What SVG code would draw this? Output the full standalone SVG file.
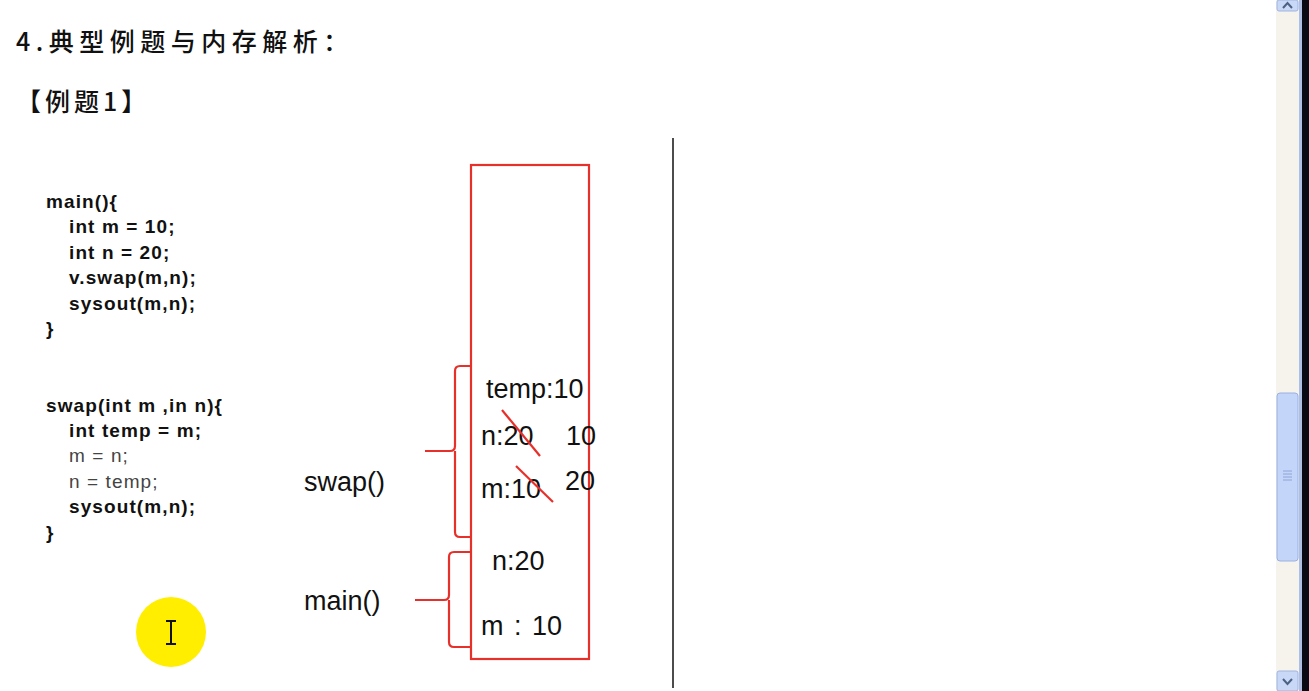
<svg xmlns="http://www.w3.org/2000/svg" width="1309" height="691" viewBox="0 0 1309 691">
<style>
.h{font-family:"Noto Sans CJK SC","Liberation Sans",sans-serif;font-size:25px;font-weight:500;fill:#111}
.c{font-family:"Liberation Sans",Arial,sans-serif;font-size:19px;letter-spacing:1.1px;fill:#111}
.b{font-weight:bold}
.g{fill:#444;font-weight:normal}
.m{font-family:"Liberation Sans",Arial,sans-serif;font-size:27px;fill:#111}
.red{fill:none;stroke:#e8302a;stroke-width:2.2}
</style>
<rect width="1309" height="691" fill="#fff"/>
<g id="title">
<text class="h" x="16" y="51" letter-spacing="5.5">4.典型例题与内存解析：</text>
<text class="h" x="16" y="111" letter-spacing="4">【例题1】</text>
</g>
<g id="code-main">
<text class="c b" x="46" y="208">main(){</text>
<text class="c b" x="69" y="233">int m = 10;</text>
<text class="c b" x="69" y="259">int n = 20;</text>
<text class="c b" x="69" y="284">v.swap(m,n);</text>
<text class="c b" x="69" y="310">sysout(m,n);</text>
<text class="c b" x="46" y="335">}</text>
</g>
<g id="code-swap">
<text class="c b" x="46" y="412">swap(int m ,in n){</text>
<text class="c b" x="69" y="437">int temp = m;</text>
<text class="c g" x="69" y="462">m = n;</text>
<text class="c g" x="69" y="488">n = temp;</text>
<text class="c b" x="69" y="513">sysout(m,n);</text>
<text class="c b" x="46" y="539">}</text>
</g>
<line id="divider" x1="673" y1="138" x2="673" y2="688" stroke="#111" stroke-width="1.5"/>
<g id="stack">
<rect x="471" y="165" width="118" height="494" class="red" fill="#fff"/>
<text class="m" x="486" y="398">temp:10</text>
<text class="m" x="481" y="445">n:20</text>
<text class="m" x="566" y="445">10</text>
<text class="m" x="481" y="498">m:10</text>
<text class="m" x="565" y="490">20</text>
<text class="m" x="492" y="570">n:20</text>
<text class="m" x="481" y="635" word-spacing="3">m : 10</text>
</g>
<g id="strikes">
<line x1="502" y1="410" x2="540" y2="456" class="red"/>
<line x1="516" y1="466" x2="553" y2="502" class="red"/>
</g>
<g id="label-swap"><text class="m" x="304" y="491">swap()</text></g>
<g id="label-main"><text class="m" x="304" y="610">main()</text></g>
<g id="connectors">
<path class="red" d="M471,366 H460 Q455,366 455,371 V446 Q455,451 450,451 H425 M455,451 V532 Q455,537 460,537 H471"/>
<path class="red" d="M471,552 H454 Q449,552 449,557 V595 Q449,600 444,600 H415 M449,600 V642 Q449,647 454,647 H471"/>
</g>
<g id="cursor">
<circle cx="171" cy="632" r="35" fill="#ffee00"/>
<path d="M166,621 H176 M171,621 V644 M166,644 H176" stroke="#111" stroke-width="2" fill="none"/>
</g>
<g id="scrollbar">
<rect x="1276" y="0" width="24" height="691" fill="#f6f3ec"/>
<rect x="1299" y="0" width="3" height="691" fill="#aebfe6"/>
<rect x="1302" y="0" width="7" height="691" fill="#0a0a14"/>
<rect x="1277" y="0" width="21" height="11" rx="2" fill="#c9d8f7" stroke="#9fb4df"/>
<path d="M1283,8 L1287.5,3 L1292,8" stroke="#4d6185" stroke-width="2" fill="none"/>
<rect x="1277" y="393" width="21" height="168" rx="3" fill="#c4d5fa" stroke="#99b0e0"/>
<path d="M1283,471 H1292 M1283,474 H1292 M1283,477 H1292 M1283,480 H1292" stroke="#8ea4d4" stroke-width="1"/>
<rect x="1277" y="671" width="21" height="20" rx="2" fill="#c9d8f7" stroke="#9fb4df"/>
<path d="M1283,679 L1287.5,684 L1292,679" stroke="#4d6185" stroke-width="2" fill="none"/>
</g>
</svg>
